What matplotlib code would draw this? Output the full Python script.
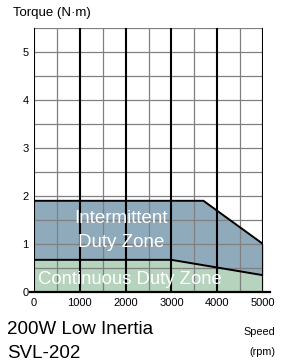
import matplotlib.pyplot as plt
import numpy as np

plt.rcParams['font.family'] = ['Liberation Sans', 'DejaVu Sans']

# speed (rpm) / torque (N·m) curves
inter_speed = [0, 3700, 5000]
inter_torque = [1.9, 1.9, 1.0]
cont_speed = [0, 3000, 5000]
cont_torque = [0.67, 0.67, 0.35]

x_ticks = [0, 1000, 2000, 3000, 4000, 5000]
y_ticks = [0, 1, 2, 3, 4, 5]

fig = plt.figure(figsize=(2.83, 3.64), dpi=100)
ax = fig.add_axes([34 / 283, (364 - 292) / 364, (263 - 34) / 283, (292 - 28) / 364])

ax.set_xlim(0, 5000)
ax.set_ylim(0, 5.5)

# fills
xs = np.linspace(0, 5000, 501)
top = np.interp(xs, inter_speed, inter_torque)
mid = np.interp(xs, cont_speed, cont_torque)
ax.fill_between(xs, 0, mid, color='#b6d3bd', zorder=1, lw=0)
ax.fill_between(xs, mid, top, color='#8eaabb', zorder=1, lw=0)

# grid
for yv in np.arange(0.5, 5.51, 0.5):
    ax.plot([0, 5000], [yv, yv], color='#808080', lw=0.9, zorder=2)
for xv in np.arange(500, 5000, 1000):
    ax.plot([xv, xv], [0, 5.5], color='#808080', lw=0.9, zorder=2)
for xv in x_ticks:
    ax.plot([xv, xv], [0, 5.5], color='black', lw=1.5, zorder=3)
ax.plot([-80, 5150], [0, 0], color='black', lw=1.6, zorder=4, clip_on=False)

# curves
ax.plot(inter_speed, inter_torque, color='black', lw=1.4, zorder=4)
ax.plot(cont_speed, cont_torque, color='black', lw=1.4, zorder=4)

ax.text(1900, 1.54, 'Intermittent', color='white', fontsize=13.5, ha='center', va='center', zorder=5)
ax.text(1900, 1.04, 'Duty Zone', color='white', fontsize=13.5, ha='center', va='center', zorder=5)
ax.text(80, 0.27, 'Continuous Duty Zone', color='white', fontsize=13.3, ha='left', va='center', zorder=5)

for s in ax.spines.values():
    s.set_visible(False)
ax.set_xticks(x_ticks)
ax.set_yticks(y_ticks)
ax.tick_params(length=0, labelsize=8, pad=4)

fig.text(13 / 283, 1 - 13 / 364, 'Torque (N·m)', fontsize=9.5, ha='left', va='center')
fig.text(7 / 283, 1 - 330 / 364, '200W Low Inertia', fontsize=13.5, ha='left', va='center')
fig.text(7 / 283, 1 - 353 / 364, 'SVL-202', fontsize=13.5, ha='left', va='center')
fig.text(259 / 283, 1 - 332 / 364, 'Speed', fontsize=7.8, ha='center', va='center')
fig.text(262 / 283, 1 - 352 / 364, '(rpm)', fontsize=7.8, ha='center', va='center')

fig.savefig('out.png', dpi=100)
